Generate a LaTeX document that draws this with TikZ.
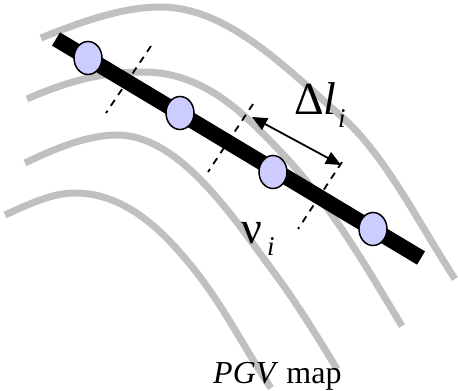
\documentclass[tikz,border=0pt]{standalone}
\usepackage{fontspec}
\setmainfont{Liberation Serif}
\usetikzlibrary{arrows.meta,shapes.geometric}
\definecolor{contour}{RGB}{192,192,192}
\definecolor{station}{RGB}{204,204,255}
\tikzset{
  contourline/.style={draw=contour,line width=7pt,line cap=butt},
  fault/.style={draw=black,line width=15.5pt,line cap=butt},
  site/.style={ellipse,draw=black,line width=1.5pt,fill=station,minimum width=28pt,minimum height=33pt,inner sep=0pt},
  seg/.style={draw=black,line width=1.8pt,dash pattern=on 7pt off 6pt},
  dim/.style={draw=black,line width=1.8pt,{Triangle[length=15pt,width=13pt]}-{Triangle[length=15pt,width=13pt]}},
  lbl/.style={inner sep=0pt,anchor=base west}
}
\begin{document}
\begin{tikzpicture}[x=1pt,y=-1pt]
\useasboundingbox (0,0) rectangle (458,391);
\draw[contourline] (41,38) .. controls (85,20) and (125,7) .. (160,7) .. controls (225,7) and (280,62) .. (342,117) .. controls (385,155) and (418,222) .. (455,279);
\draw[contourline] (27,99) .. controls (70,80) and (105,72) .. (143,72) .. controls (205,72) and (245,115) .. (279,150) .. controls (330,203) and (365,265) .. (402,326);
\draw[contourline] (25,163) .. controls (60,146) and (90,135) .. (117,135) .. controls (175,135) and (225,205) .. (267,263) .. controls (295,300) and (315,333) .. (337,369);
\draw[contourline] (5,215) .. controls (35,201) and (55,193) .. (75,193) .. controls (115,193) and (150,217) .. (183,256) .. controls (220,298) and (245,350) .. (271,388);
\coordinate (d1a) at (151,46); \coordinate (d1b) at (106,113);
\coordinate (d2a) at (253,104); \coordinate (d2b) at (208,172);
\coordinate (d3a) at (342,162); \coordinate (d3b) at (298,229);
\draw[seg] (d1a) -- (d1b);
\draw[seg] (d2a) -- (d2b);
\draw[seg] (d3a) -- (d3b);
\coordinate (fa) at (56,39); \coordinate (fb) at (421,258);
\draw[fault] (fa) -- (fb);
\node[site] (s1) at (88,58) {};
\node[site] (s2) at (180,113) {};
\node[site] (s3) at (273,172) {};
\node[site] (s4) at (373,229) {};
\coordinate (aa) at (252,117); \coordinate (ab) at (341,165);
\draw[dim] (aa) -- (ab);
\node[lbl,font=\fontsize{46}{46}\selectfont] (dl) at (294,114) {Δ\textit{l}};
\node[lbl,font=\fontsize{27}{27}\selectfont\itshape] (dli) at (338,127) {i};
\node[lbl,font=\fontsize{46}{46}\selectfont] (nu) at (241,243) {ν};
\node[lbl,font=\fontsize{27}{27}\selectfont\itshape] (nui) at (267,255) {i};
\node[lbl,font=\fontsize{32}{32}\selectfont] (cap) at (213,383) {\textit{PGV} map};
\end{tikzpicture}
\end{document}
